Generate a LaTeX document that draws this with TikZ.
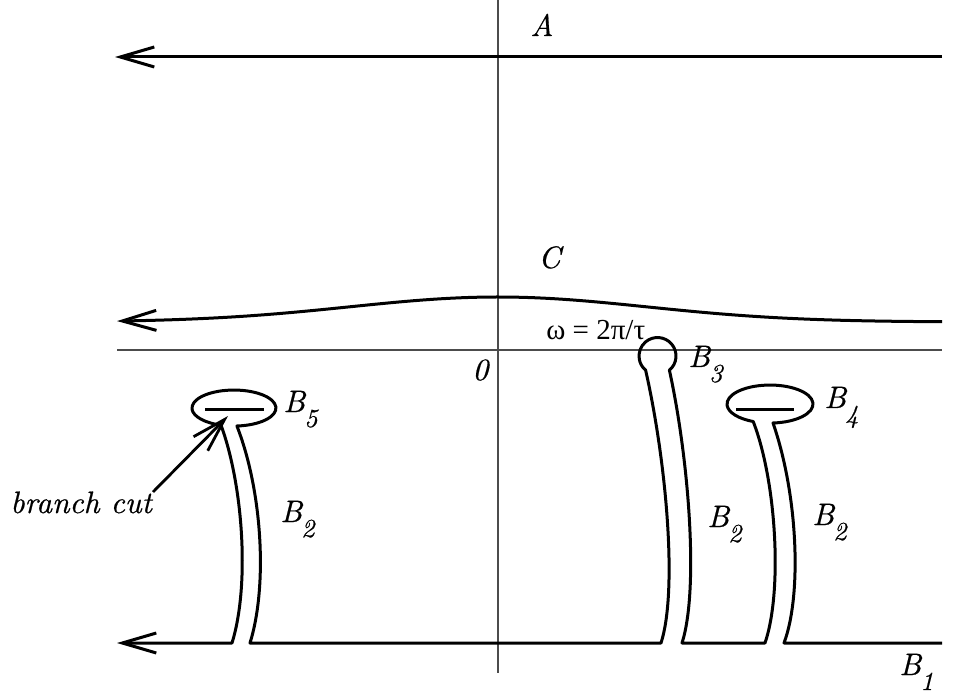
\documentclass[tikz,border=0pt]{standalone}
\usepackage{fontspec}
\newfontfamily\tmsfont{Liberation Serif}
\newfontfamily\labfont{lmroman10-italic.otf}[FakeBold=0.6]
\usetikzlibrary{arrows.meta}
\newcommand\sublab[2]{#1\kern-0.5pt\raisebox{-7.5pt}{\fontsize{13}{14}\selectfont #2}}
\tikzset{Barbtip/.tip={Straight Barb[length=17pt,width=10pt]}}
\begin{document}
\begin{tikzpicture}[x=0.5pt,y=-0.5pt,
  contour/.style={line width=1.5pt, line join=round},
  axisline/.style={line width=0.55pt, black!70},
  lab/.style={anchor=base west, inner sep=0pt, font=\labfont\fontsize{15.5}{17}\selectfont}]
\useasboundingbox (0,0) rectangle (967,694);
% axes
\coordinate (vtop) at (498,0);
\coordinate (vbot) at (498,673);
\coordinate (hl) at (117,350);
\coordinate (hr) at (942,350);
\draw[axisline] (vtop) -- (vbot);
\draw[axisline] (hl) -- (hr);
% contour A
\coordinate (aR) at (942,57);
\coordinate (aL) at (115,57);
\draw[contour,-Barbtip] (aR) -- (aL);
% contour C
\draw[contour,Barbtip-] plot[domain=117:942,samples=90] (\x,{322-25*exp(-((\x-498)/210)*((\x-498)/210))});
% centres of loops
\coordinate (c4) at (770,404);
\coordinate (c3) at (657.5,356);
\coordinate (c5) at (234,408);
% contour B
\coordinate (bR) at (942,643);
\coordinate (bL) at (117,643);
\draw[contour,-Barbtip] (bR) -- (784,643)
  .. controls (802,595) and (798,495) .. (773,423)
  arc[start angle=86, end angle=-247, x radius=43, y radius=19]
  .. controls (776,480) and (783,590) .. (765,643)
  -- (682,643)
  .. controls (699,590) and (689,460) .. (669.4,370.2)
  arc[start angle=50, end angle=-230, radius=18.5]
  .. controls (666,460) and (678,590) .. (661,643)
  -- (250,643)
  .. controls (268,585) and (262,490) .. (236.9,426)
  arc[start angle=86, end angle=-252, x radius=42, y radius=18]
  .. controls (243,485) and (250,585) .. (232,643)
  -- (bL);
% branch cuts
\coordinate (cut5a) at (205,409);
\coordinate (cut5b) at (264,409);
\coordinate (cut4a) at (736,409);
\coordinate (cut4b) at (794,409);
\draw[contour] (cut5a) -- (cut5b);
\draw[contour] (cut4a) -- (cut4b);
% labels
\node[lab] (lA) at (530,36) {A};
\node[lab] (lC) at (538,268) {C};
\node[lab] (l0) at (472,380) {0};
\node[anchor=base west, inner sep=0pt] (lw) at (546,340) {\tmsfont\fontsize{14.5}{16}\selectfont ω = 2π/τ};
\node[lab] (lB5) at (283,412) {\sublab{B}{5}};
\node[lab] (lB3) at (688,367) {\sublab{B}{3}};
\node[lab] (lB4) at (824,408) {\sublab{B}{4}};
\node[lab] (lB2a) at (280,522) {\sublab{B}{2}};
\node[lab] (lB2b) at (707,527) {\sublab{B}{2}};
\node[lab] (lB2c) at (812,525) {\sublab{B}{2}};
\node[lab] (lB1) at (899,675) {\sublab{B}{1}};
\node[lab] (lbc) at (10,513) {branch cut};
% arrow to branch cut
\coordinate (bcstart) at (153,492);
\coordinate (bctip) at (228,416);
\draw[line width=1.4pt,-Barbtip] (bcstart) -- (bctip);
\end{tikzpicture}
\end{document}
